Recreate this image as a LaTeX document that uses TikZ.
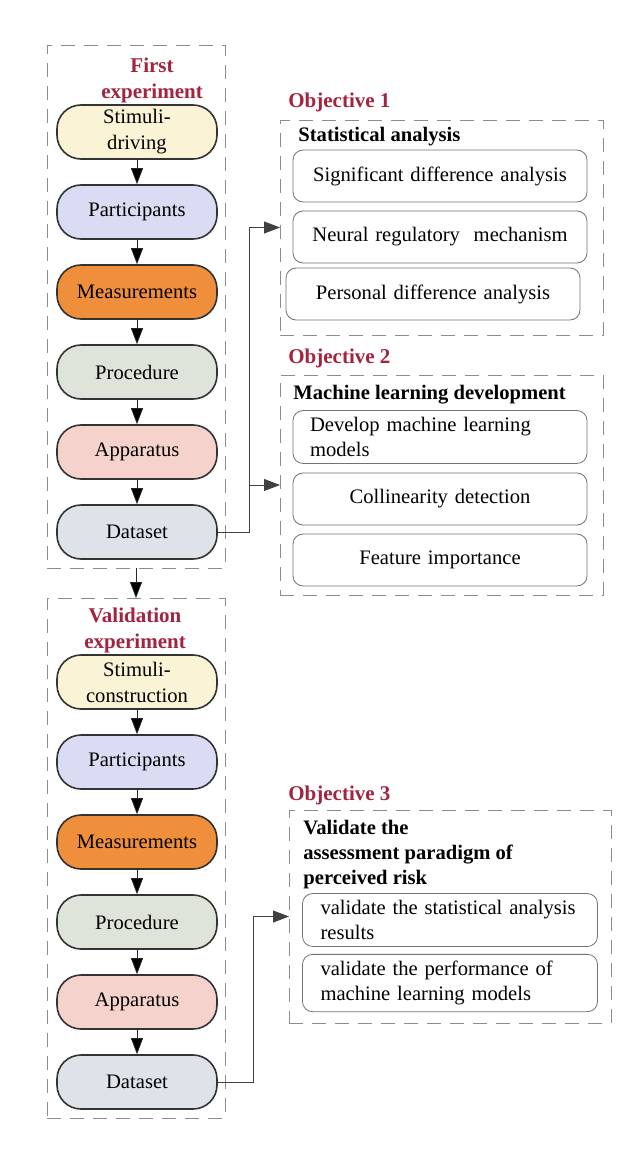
\documentclass[tikz,border=0pt]{standalone}
\usepackage{fontspec}
\setmainfont{Liberation Serif}
\usepackage{tikz}
\usetikzlibrary{arrows.meta}
\usetikzlibrary{positioning}
\usetikzlibrary{shapes,fit}
\definecolor{stimfill}{HTML}{FBF3D5}
\definecolor{partfill}{HTML}{D9DCF2}
\definecolor{measfill}{HTML}{EF8E3B}
\definecolor{procfill}{HTML}{DEE4DA}
\definecolor{appafill}{HTML}{F5D3CC}
\definecolor{datafill}{HTML}{DDE3E9}
\definecolor{titlered}{HTML}{A3243F}
\tikzset{
    expbox/.style={
           rectangle,
           rounded corners=12pt,
           draw=black!80, thick,
           minimum width=80pt,
           minimum height=27pt,
           inner sep=1pt,
           align=center,
           font=\fontsize{10.3}{13}\selectfont,
           },
    objitem/.style={
           rectangle,
           rounded corners=5pt,
           draw=black!55,
           text width=139pt,
           inner xsep=4pt,
           minimum height=26pt,
           align=center,
           font=\fontsize{10.3}{12.5}\selectfont,
           },
    framebox/.style={
           rectangle,
           draw=black!45,
           dash pattern=on 7pt off 4.5pt,
           inner sep=0pt,
           outer sep=0pt,
           anchor=north west,
           },
    heading/.style={
           text=titlered,
           inner sep=0pt,
           align=center,
           font=\bfseries\fontsize{10.5}{13}\selectfont,
           },
    subhead/.style={
           inner sep=0pt,
           align=left,
           anchor=west,
           font=\bfseries\fontsize{10.3}{12.5}\selectfont,
           },
}

\begin{document}
\begin{tikzpicture}
[
x=0.5pt,y=-0.5pt,
->,>={Triangle[length=8pt,width=6pt]},
node distance=40pt
]
 \useasboundingbox[fill=white] (0,0) rectangle (636,1155);

 % dashed frames
 \node[framebox, minimum width=89pt, minimum height=261.5pt] (BOX1) at (47,45) {};
 \node[framebox, minimum width=89pt, minimum height=260pt] (BOX2) at (47,598) {};
 \node[framebox, minimum width=161.5pt, minimum height=107.5pt] (OBJ1) at (280,120) {};
 \node[framebox, minimum width=161.5pt, minimum height=110pt] (OBJ2) at (280,375) {};
 \node[framebox, minimum width=161pt, minimum height=106.5pt] (OBJ3) at (289,810) {};

 % first experiment
 \node[heading] (TITLE1) at (152,80) {First\\experiment};
 \node[expbox, fill=stimfill] (STIM1) at (137,132) {Stimuli-\\driving};
 \node[expbox, fill=partfill, below of=STIM1] (PART1) {Participants};
 \node[expbox, fill=measfill, below of=PART1] (MEAS1) {Measurements};
 \node[expbox, fill=procfill, below of=MEAS1] (PROC1) {Procedure};
 \node[expbox, fill=appafill, below of=PROC1] (APPA1) {Apparatus};
 \node[expbox, fill=datafill, below of=APPA1] (DATA1) {Dataset};

 % validation experiment
 \node[heading] (TITLE2) at (135,630) {Validation\\experiment};
 \node[expbox, fill=stimfill,
 below of=DATA1,
 node distance=75pt] (STIM2) {Stimuli-\\construction};
 \node[expbox, fill=partfill, below of=STIM2] (PART2) {Participants};
 \node[expbox, fill=measfill, below of=PART2] (MEAS2) {Measurements};
 \node[expbox, fill=procfill, below of=MEAS2] (PROC2) {Procedure};
 \node[expbox, fill=appafill, below of=PROC2] (APPA2) {Apparatus};
 \node[expbox, fill=datafill, below of=APPA2] (DATA2) {Dataset};

 % objective 1
 \node[heading, anchor=west] (OBJT1) at (288,102) {Objective 1};
 \node[subhead] (STAT) at (298,137) {Statistical analysis};
 \node[objitem] (SIG) at (440,176) {Significant difference analysis};
 \node[objitem, below of=SIG, node distance=30.5pt] (NEUR) {Neural regulatory~ mechanism};
 \node[objitem, below of=NEUR, node distance=28.5pt, xshift=-3.5pt] (PERS) {Personal difference analysis};

 % objective 2
 \node[heading, anchor=west] (OBJT2) at (288,358) {Objective 2};
 \node[subhead] (MLD) at (293,395) {Machine learning development};
 \node[objitem, align=left, text width=130pt, inner xsep=8.5pt] (DEV) at (440,437) {Develop machine learning\\models};
 \node[objitem, below of=DEV, node distance=31pt] (COLL) {Collinearity detection};
 \node[objitem, below of=COLL, node distance=30.5pt] (FEAT) {Feature importance};

 % objective 3
 \node[heading, anchor=west] (OBJT3) at (288,795) {Objective 3};
 \node[subhead] (VAL) at (303,855) {Validate the\\assessment paradigm of\\perceived risk};
 \node[objitem, align=left, text width=129.5pt, inner xsep=9pt,
 minimum height=25pt] (VSTAT) at (450,920) {validate the statistical analysis\\results};
 \node[objitem, align=left, text width=129.5pt, inner xsep=9pt,
 minimum height=25pt, below of=VSTAT, node distance=31.5pt] (VPERF) {validate the performance of\\machine learning models};

 % arrows inside the columns
 \path[draw=black!85]
 (STIM1) edge (PART1)
 (PART1) edge (MEAS1)
 (MEAS1) edge (PROC1)
 (PROC1) edge (APPA1)
 (APPA1) edge (DATA1)
 (BOX1) edge (BOX2)
 (STIM2) edge (PART2)
 (PART2) edge (MEAS2)
 (MEAS2) edge (PROC2)
 (PROC2) edge (APPA2)
 (APPA2) edge (DATA2)
 ;

 % links to the objectives
 \path (DATA1.east) -- (DATA1.east -| OBJ1.west) coordinate[midway] (BUS1);
 \path (DATA2.east) -- (DATA2.east -| OBJ3.west) coordinate[midway] (BUS2);
 \draw[draw=black!75] (DATA1.east) -- (BUS1) |- (OBJ1.west);
 \draw[draw=black!75] (BUS1) |- (OBJ2.west);
 \draw[draw=black!75] (DATA2.east) -- (BUS2) |- (OBJ3.west);

\end{tikzpicture}
\end{document}
